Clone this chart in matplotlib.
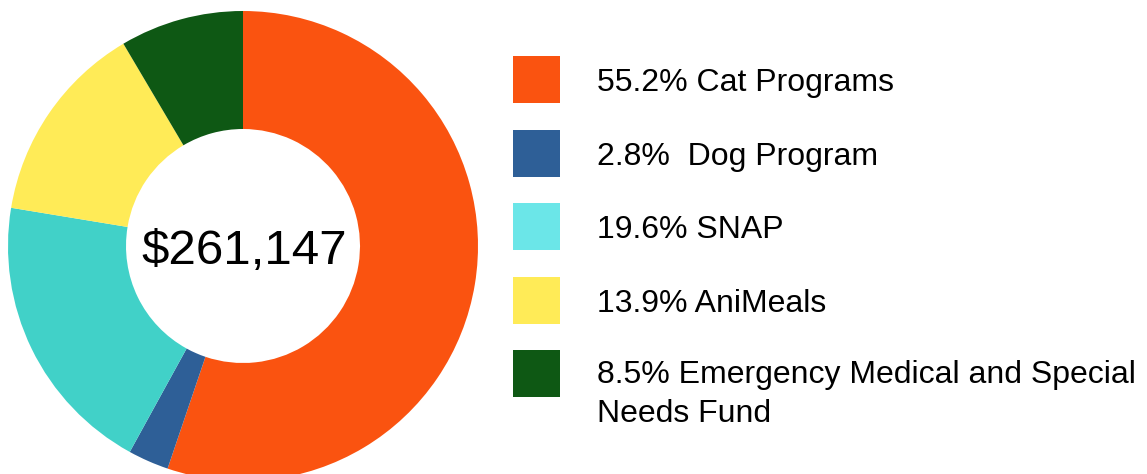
import matplotlib

matplotlib.use("Agg")
import matplotlib.pyplot as plt
from matplotlib.patches import Rectangle

# data
labels = [
    "55.2% Cat Programs",
    "2.8%  Dog Program",
    "19.6% SNAP",
    "13.9% AniMeals",
    "8.5% Emergency Medical and Special\nNeeds Fund",
]
shares = [55.2, 2.8, 19.6, 13.9, 8.5]
pie_colors = ["#FA5310", "#2E5F97", "#41D1C8", "#FFEB57", "#0E5814"]
legend_colors = ["#FA5310", "#2E5F97", "#6BE6E8", "#FFEB57", "#0E5814"]
total_label = "$261,147"

W, H = 1147, 474
plt.rcParams["font.family"] = ["Liberation Sans", "DejaVu Sans"]

fig = plt.figure(figsize=(W / 100, H / 100), dpi=100)
ax = fig.add_axes([0, 0, 1, 1])

cx, cy, r_out = 243, H - 246, 235
ax.pie(
    shares,
    colors=pie_colors,
    startangle=90,
    counterclock=False,
    center=(cx, cy),
    radius=r_out,
    wedgeprops=dict(width=r_out - 117, linewidth=0),
)
ax.text(cx + 1, H - 252, total_label, ha="center", va="center", fontsize=35.5)

# legend drawn by hand so the last square lines up with the first text line
box = 47
row_top = 56
row_gap = 73.6
for i, (lab, col) in enumerate(zip(labels, legend_colors)):
    top = row_top + i * row_gap
    ax.add_patch(Rectangle((513, H - top - box), box, box, facecolor=col, edgecolor="none"))
    mid = H - (top + box / 2)
    if "\n" in lab:
        ax.text(597, mid + 14, lab, ha="left", va="top", fontsize=23, linespacing=1.4)
    else:
        ax.text(597, mid, lab, ha="left", va="center_baseline", fontsize=23)

ax.set_xlim(0, W)
ax.set_ylim(0, H)
ax.set_aspect("equal")
ax.axis("off")
fig.savefig("out.png", dpi=100)
